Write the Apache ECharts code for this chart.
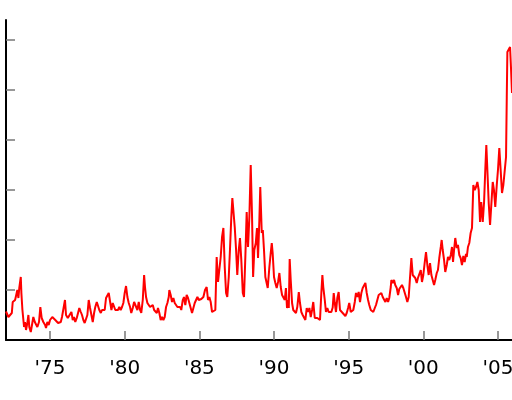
<!DOCTYPE html>
<html>
<head>
<meta charset="utf-8">
<script src="https://cdn.jsdelivr.net/npm/echarts@6/dist/echarts.min.js"></script>
<style>html,body{margin:0;padding:0;background:#fff}#c{width:512px;height:400px}</style>
</head>
<body>
<div id="c"></div>
<script>
const years = [
1972.05,1972.21,1972.32,1972.44,1972.50,1972.59,1972.66,1972.72,1972.81,1972.88,1972.94,1973.04,1973.08,1973.15,1973.26,1973.33,1973.39,1973.48,1973.55,1973.61,1973.71,1973.79,1973.88,1973.98,
1974.06,1974.15,1974.26,1974.35,1974.44,1974.55,1974.67,1974.73,1974.82,1974.91,1975.00,1975.09,1975.15,1975.27,1975.35,1975.45,1975.54,1975.62,1975.72,1975.80,1975.89,1976.00,1976.07,1976.19,1976.29,
1976.43,1976.52,1976.61,1976.69,1976.79,1976.88,1976.96,1977.06,1977.14,1977.23,1977.32,1977.43,1977.50,1977.59,1977.68,1977.77,1977.86,1977.95,1978.03,1978.13,1978.21,1978.30,1978.40,1978.48,1978.57,1978.66,1978.75,1978.84,1978.93,
1979.02,1979.11,1979.20,1979.29,1979.37,1979.47,1979.55,1979.64,1979.73,1979.82,1979.91,1980.00,1980.09,1980.18,1980.27,1980.36,1980.44,1980.54,1980.63,
1980.74,1980.85,1980.94,1981.03,1981.11,1981.21,1981.30,1981.36,1981.43,1981.52,1981.61,1981.70,1981.78,1981.88,1981.97,1982.05,1982.15,1982.23,1982.32,1982.41,1982.50,1982.59,1982.68,1982.77,1982.86,1982.95,1982.99,
1983.08,1983.17,1983.26,1983.35,1983.44,1983.53,1983.62,1983.71,1983.79,1983.89,1983.97,1984.06,1984.15,1984.24,1984.33,1984.42,1984.51,1984.60,1984.69,1984.78,1984.87,1984.96,1985.05,1985.13,
1985.27,1985.38,1985.49,1985.58,1985.67,1985.76,1985.85,1985.98,1986.07,1986.16,1986.25,1986.34,1986.43,1986.52,1986.61,1986.70,1986.79,1986.87,1986.97,1987.05,1987.14,1987.21,1987.28,1987.37,1987.46,1987.54,1987.64,1987.72,1987.81,1987.91,1987.99,
1988.08,1988.17,1988.26,1988.35,1988.44,1988.53,1988.60,1988.68,1988.78,1988.86,1988.93,1989.02,1989.08,1989.18,1989.25,1989.33,1989.42,1989.51,
1989.58,1989.69,1989.78,1989.85,1989.91,1990.00,1990.09,1990.18,1990.27,1990.36,1990.45,1990.54,1990.62,1990.72,1990.80,1990.87,1990.94,1990.99,1991.05,1991.12,1991.21,1991.29,1991.39,1991.47,1991.56,1991.66,1991.74,1991.83,1991.92,
1992.01,1992.10,1992.19,1992.28,1992.37,1992.46,1992.55,1992.63,1992.73,1992.81,1992.90,1992.99,1993.08,1993.17,1993.24,1993.30,1993.40,1993.48,1993.57,1993.66,1993.75,1993.84,
1993.93,1994.00,1994.07,1994.15,1994.24,1994.33,1994.42,1994.51,1994.60,1994.69,1994.78,1994.87,1994.96,1995.04,1995.14,1995.22,1995.31,1995.41,1995.49,1995.58,1995.67,1995.76,1995.85,1995.94,
1996.03,1996.12,1996.21,1996.30,1996.38,1996.48,1996.56,1996.65,1996.75,1996.83,1996.92,1997.01,1997.10,1997.19,1997.28,1997.37,1997.46,1997.55,1997.64,1997.72,1997.82,1997.86,1997.95,1998.04,1998.12,1998.22,1998.31,
1998.39,1998.49,1998.57,1998.66,1998.75,1998.84,1998.93,1999.02,1999.11,1999.20,1999.29,1999.38,1999.46,1999.56,1999.64,1999.73,1999.83,1999.91,2000.00,2000.09,2000.18,2000.27,2000.36,2000.45,2000.54,2000.63,2000.72,2000.80,2000.90,2000.98,
2001.07,2001.17,2001.23,2001.30,2001.39,2001.47,2001.57,2001.65,2001.74,2001.84,2001.92,2001.99,2002.06,2002.14,2002.24,2002.32,2002.41,2002.50,2002.59,2002.68,2002.77,2002.86,
2002.91,2002.99,2003.08,2003.17,2003.26,2003.35,2003.44,2003.53,2003.62,2003.71,2003.80,2003.88,2003.98,2004.07,2004.15,2004.22,2004.29,2004.38,2004.47,2004.55,2004.65,2004.73,2004.82,2004.92,
2005.00,2005.09,2005.18,2005.27,2005.36,2005.45,2005.54,2005.59,2005.63,2005.72,2005.81,2005.87,2005.94
];
const values = [
5.7,4.6,4.4,5.4,7.6,7.4,8.0,7.6,10.0,8.4,10.4,12.6,9.4,6.0,2.6,3.6,2.0,3.4,5.0,2.6,1.6,3.0,4.6,3.6,
3.4,2.6,3.6,6.6,4.4,3.6,3.0,2.4,3.6,3.0,4.0,3.6,4.6,4.4,4.0,4.4,3.4,3.0,3.6,4.6,4.4,8.0,5.0,4.4,4.6,
5.6,4.0,4.6,3.6,4.4,4.6,6.4,5.6,5.0,4.0,3.4,3.0,5.0,8.0,6.4,5.0,3.6,5.4,6.6,7.6,7.4,6.0,5.4,6.0,5.6,6.0,8.4,8.0,9.4,
9.0,6.0,7.4,7.6,6.0,6.4,6.0,6.6,6.0,6.6,7.4,9.4,10.8,8.6,7.4,6.6,5.4,6.4,7.6,
7.8,6.0,7.6,6.0,5.4,8.0,13.0,10.6,8.6,7.4,7.6,6.6,6.4,7.0,6.0,6.4,5.4,6.4,5.4,4.0,4.6,4.0,4.6,6.6,7.4,8.6,10.0,
9.0,7.6,8.4,7.4,7.6,6.6,7.0,6.6,6.0,8.0,8.6,7.0,9.0,8.4,7.4,6.4,5.4,6.4,7.4,7.6,8.6,8.0,7.7,8.2,
8.6,10.0,10.6,8.0,8.6,7.6,5.6,5.6,6.0,16.6,11.6,12.0,16.6,20.6,22.4,14.6,9.4,8.6,12.6,18.0,24.6,28.4,28.0,22.6,18.0,13.0,18.0,20.4,16.0,9.4,8.6,
16.6,25.6,18.6,24.6,35.0,24.6,12.6,18.0,19.4,22.4,16.4,24.0,30.6,21.4,22.0,18.0,12.6,12.4,
10.4,14.6,17.4,19.4,17.4,12.6,11.4,10.4,11.6,13.4,10.6,9.0,8.6,8.0,10.4,6.4,8.0,6.4,16.2,12.0,7.4,6.0,6.0,5.4,6.6,9.6,7.4,5.6,5.0,
4.6,4.0,6.4,5.6,6.4,4.6,6.0,7.6,4.4,4.6,4.4,4.6,4.0,9.4,13.0,10.6,8.0,5.6,6.4,5.6,6.0,5.6,
6.5,9.4,7.4,5.6,8.4,9.6,6.0,6.4,5.4,5.6,4.8,5.4,6.4,7.4,5.6,5.4,6.0,7.6,9.4,8.6,9.6,7.6,9.4,10.4,
10.6,11.4,9.4,8.0,7.0,6.0,6.4,5.6,6.4,7.0,8.0,9.0,8.6,9.4,8.6,9.0,7.6,8.4,7.6,8.4,10.6,12.0,11.4,12.0,11.0,10.4,9.0,
10.2,10.4,11.0,10.4,10.6,8.6,7.6,8.6,8.6,16.4,13.0,12.6,12.4,11.4,12.4,12.0,14.0,11.6,13.0,15.4,17.6,15.0,13.0,15.4,13.0,12.0,11.0,12.0,13.4,14.0,
16.4,18.6,20.0,18.0,16.0,13.6,15.0,16.6,16.0,17.0,18.6,15.6,18.0,20.4,18.4,19.0,17.0,16.4,15.0,16.8,15.6,17.2,
16.6,18.6,19.4,21.4,22.4,31.0,30.0,30.6,31.6,30.0,23.6,27.6,23.6,27.6,34.0,39.0,34.0,27.4,23.0,23.4,31.6,30.0,26.6,31.0,
34.0,38.4,34.0,29.4,31.0,31.4,36.6,48.6,57.6,58.0,58.6,54.6,49.4
];
const xTickYears = [1975, 1980, 1985, 1990, 1995, 2000, 2005];
const xTickLabels = ["'75", "'80", "'85", "'90", "'95", "'00", "'05"];
const yTickValues = [10, 20, 30, 40, 50, 60];

const chart = echarts.init(document.getElementById('c'), null, {renderer: 'canvas'});
chart.setOption({
  animation: false,
  grid: {left: 6, right: 0, top: 20, bottom: 60, containLabel: false, outerBoundsMode: 'none'},
  xAxis: {
    type: 'value', min: 1972.05, max: 2005.94,
    axisLine: {show: true, onZero: false, lineStyle: {color: '#000', width: 2}},
    axisTick: {show: true, inside: true, length: 9, customValues: xTickYears, lineStyle: {color: '#777', width: 1.5}},
    axisLabel: {show: true, customValues: xTickYears, margin: 19, color: '#000', fontFamily: 'DejaVu Sans', fontSize: 20,
      hideOverlap: false,
      formatter: function (v) { const i = xTickYears.indexOf(Math.round(v)); return i >= 0 ? xTickLabels[i] : ''; }},
    splitLine: {show: false}
  },
  yAxis: {
    type: 'value', min: 0, max: 64,
    axisLine: {show: true, lineStyle: {color: '#000', width: 2}},
    axisTick: {show: true, inside: true, length: 9, customValues: yTickValues, lineStyle: {color: '#777', width: 1.5}},
    axisLabel: {show: false},
    splitLine: {show: false}
  },
  series: [{
    type: 'line',
    data: years.map((y, i) => [y, values[i]]),
    showSymbol: false,
    lineStyle: {color: '#ff0000', width: 2},
    itemStyle: {color: '#ff0000'},
    clip: false
  }]
});
</script>
</body>
</html>
